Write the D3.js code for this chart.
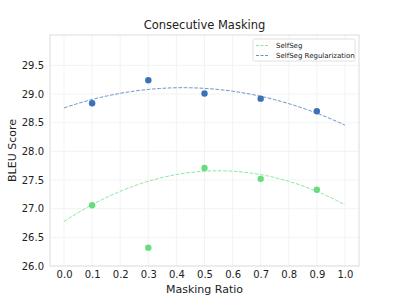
<!DOCTYPE html>
<html>
<head>
<meta charset="utf-8">
<title>Consecutive Masking</title>
<script src="https://cdn.jsdelivr.net/npm/d3@7"></script>
<style>
    body { margin: 0; background: #fff; }
    text { font-family: "DejaVu Sans", sans-serif; fill: #222; }
</style>
</head>
<body>
<script>
    var ratios = [0.1, 0.3, 0.5, 0.7, 0.9];
    var selfSeg = [27.06, 26.32, 27.71, 27.52, 27.33];
    var selfSegReg = [28.84, 29.24, 29.01, 28.92, 28.70];
    // the 0.3 SelfSeg point is left out of its fitted curve
    var selfSegFitIdx = [0, 2, 3, 4];
    var xTicks = [0.0, 0.1, 0.2, 0.3, 0.4, 0.5, 0.6, 0.7, 0.8, 0.9, 1.0];
    var yTicks = [26.0, 26.5, 27.0, 27.5, 28.0, 28.5, 29.0, 29.5];

    var W = 399, H = 299;
    var m = {left: 50, right: 40, top: 35, bottom: 33};

    var svg = d3.select("body").append("svg")
        .attr("width", W).attr("height", H);

    var x = d3.scaleLinear().domain([-0.05, 1.05]).range([m.left, W - m.right]);
    var y = d3.scaleLinear().domain([26.0, 30.03]).range([H - m.bottom, m.top]);

    // quadratic least squares fit
    function polyfit2(xs, ys) {
        var S = [0, 0, 0, 0, 0], T = [0, 0, 0];
        xs.forEach(function (xv, i) {
            for (var k = 0; k < 5; k++) S[k] += Math.pow(xv, k);
            for (var k = 0; k < 3; k++) T[k] += Math.pow(xv, k) * ys[i];
        });
        var A = [[S[0], S[1], S[2], T[0]], [S[1], S[2], S[3], T[1]], [S[2], S[3], S[4], T[2]]];
        for (var i = 0; i < 3; i++) {
            for (var j = i + 1; j < 3; j++) {
                var f = A[j][i] / A[i][i];
                for (var k = i; k < 4; k++) A[j][k] -= f * A[i][k];
            }
        }
        var c = [0, 0, 0];
        for (var i = 2; i >= 0; i--) {
            var s = A[i][3];
            for (var k = i + 1; k < 3; k++) s -= A[i][k] * c[k];
            c[i] = s / A[i][i];
        }
        return function (t) { return c[0] + c[1] * t + c[2] * t * t; };
    }

    var fitReg = polyfit2(ratios, selfSegReg);
    var fitSeg = polyfit2(selfSegFitIdx.map(function (i) { return ratios[i]; }),
                          selfSegFitIdx.map(function (i) { return selfSeg[i]; }));

    var green = "#66dd80", blue = "#3a72b8";

    // grid
    var g = svg.append("g");
    g.selectAll(".vg").data(xTicks).enter().append("line")
        .attr("x1", x).attr("x2", x)
        .attr("y1", m.top).attr("y2", H - m.bottom)
        .attr("stroke", "#f0f0f0").attr("stroke-width", 0.8);
    g.selectAll(".hg").data(yTicks).enter().append("line")
        .attr("y1", y).attr("y2", y)
        .attr("x1", m.left).attr("x2", W - m.right)
        .attr("stroke", "#f0f0f0").attr("stroke-width", 0.8);

    svg.append("rect")
        .attr("x", m.left).attr("y", m.top)
        .attr("width", W - m.left - m.right).attr("height", H - m.top - m.bottom)
        .attr("fill", "none").attr("stroke", "#e3e3e3").attr("stroke-width", 1.2);

    // axes
    var xAxis = svg.append("g")
        .attr("transform", "translate(0," + (H - m.bottom) + ")")
        .call(d3.axisBottom(x).tickValues(xTicks).tickFormat(d3.format(".1f")).tickSize(0).tickPadding(5));
    var yAxis = svg.append("g")
        .attr("transform", "translate(" + m.left + ",0)")
        .call(d3.axisLeft(y).tickValues(yTicks).tickFormat(d3.format(".1f")).tickSize(0).tickPadding(6));
    [xAxis, yAxis].forEach(function (a) {
        a.select(".domain").remove();
        a.selectAll("text").style("font-size", "10px").attr("fill", "#222");
    });

    // fit curves
    var curveX = d3.range(0, 1.0001, 0.01);
    var line = function (fn) {
        return d3.line().x(function (d) { return x(d); }).y(function (d) { return y(fn(d)); })(curveX);
    };
    [[fitSeg, green], [fitReg, blue]].forEach(function (c) {
        svg.append("path").attr("d", line(c[0]))
            .attr("fill", "none").attr("stroke", c[1]).attr("stroke-width", 1)
            .attr("stroke-opacity", 0.75).attr("stroke-dasharray", "3.7,1.6");
    });

    // points
    svg.selectAll(".pg").data(ratios).enter().append("circle")
        .attr("cx", function (d) { return x(d); })
        .attr("cy", function (d, i) { return y(selfSeg[i]); })
        .attr("r", 3.2).attr("fill", green);
    svg.selectAll(".pb").data(ratios).enter().append("circle")
        .attr("cx", function (d) { return x(d); })
        .attr("cy", function (d, i) { return y(selfSegReg[i]); })
        .attr("r", 3.2).attr("fill", blue);

    // title and labels
    svg.append("text").attr("x", (m.left + W - m.right) / 2).attr("y", 29)
        .attr("text-anchor", "middle").style("font-size", "11.5px").text("Consecutive Masking");
    svg.append("text").attr("x", (m.left + W - m.right) / 2).attr("y", 293)
        .attr("text-anchor", "middle").style("font-size", "11px").text("Masking Ratio");
    svg.append("text")
        .attr("transform", "translate(16," + ((m.top + H - m.bottom) / 2) + ") rotate(-90)")
        .attr("text-anchor", "middle").style("font-size", "11px").text("BLEU Score");

    // legend
    var leg = svg.append("g").attr("transform", "translate(253,39)");
    leg.append("rect").attr("width", 102).attr("height", 22).attr("rx", 1.5)
        .attr("fill", "#fff").attr("stroke", "#d8d8d8").attr("stroke-width", 0.8);
    var items = [["SelfSeg", green], ["SelfSeg Regularization", blue]];
    items.forEach(function (it, i) {
        var yy = 6.5 + i * 10;
        leg.append("line").attr("x1", 3).attr("x2", 16).attr("y1", yy).attr("y2", yy)
            .attr("stroke", it[1]).attr("stroke-width", 1).attr("stroke-opacity", 0.75)
            .attr("stroke-dasharray", "3,1.5");
        leg.append("text").attr("x", 23).attr("y", yy + 2.5)
            .style("font-size", "7px").text(it[0]);
    });
</script>
</body>
</html>
